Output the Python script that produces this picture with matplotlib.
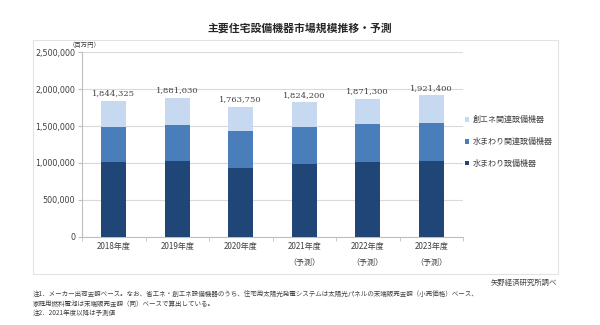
import matplotlib
matplotlib.use("Agg")
import matplotlib.pyplot as plt
from matplotlib.patches import Rectangle
import numpy as np

plt.rcParams['font.family'] = ['Noto Sans CJK JP', 'DejaVu Sans']

years = ["2018年度", "2019年度", "2020年度", "2021年度\n（予測）", "2022年度\n（予測）", "2023年度\n（予測）"]
water_equipment = [1013000, 1027000, 937000, 982000, 1009000, 1022000]
water_related = [473000, 486000, 495000, 504000, 514000, 519000]
totals = [1844325, 1881030, 1763750, 1824200, 1871300, 1921400]
energy = [t - a - b for t, a, b in zip(totals, water_equipment, water_related)]
total_labels = ["1,844,325", "1,881,030", "1,763,750", "1,824,200", "1,871,300", "1,921,400"]
series_names = ["水まわり設備機器", "水まわり関連設備機器", "創エネ関連設備機器"]
colors = ["#1f4677", "#4a7ebb", "#c6d9f0"]
yticks = [0, 500000, 1000000, 1500000, 2000000, 2500000]

W, H = 600, 325
fig = plt.figure(figsize=(6, 3.25), dpi=100)

# outer frame
fig.patches.append(Rectangle((33 / W, 1 - 274 / H), (558 - 33) / W, (274 - 40) / H,
                             transform=fig.transFigure, fill=False, edgecolor="#e3e3e3", linewidth=0.8))

ax = fig.add_axes([82 / W, 1 - 236.7 / H, (463 - 82) / W, (236.7 - 52.3) / H])
x = np.arange(len(years))
bw = 0.39
b1 = ax.bar(x, water_equipment, bw, color=colors[0], label=series_names[0], zorder=3)
b2 = ax.bar(x, water_related, bw, bottom=water_equipment, color=colors[1], label=series_names[1], zorder=3)
bottom2 = [a + b for a, b in zip(water_equipment, water_related)]
b3 = ax.bar(x, energy, bw, bottom=bottom2, color=colors[2], label=series_names[2], zorder=3)

for xi, t, lab in zip(x, totals, total_labels):
    ax.text(xi, t + 45000, lab, ha="center", va="bottom", fontsize=6,
            family="DejaVu Serif", color="#404040")

ax.set_xlim(-0.5, len(years) - 0.5)
ax.set_ylim(0, 2500000)
ax.set_yticks(yticks)
ax.set_yticklabels([f"{v:,}" for v in yticks], fontsize=5.8, color="#404040", family="DejaVu Sans")
ax.yaxis.grid(True, color="#d9d9d9", linewidth=0.8, zorder=0)
ax.set_axisbelow(True)
ax.set_xticks(x)
ax.set_xticklabels(years, fontsize=5.8, color="#404040", linespacing=2.0)
ax.tick_params(axis="x", length=0, pad=4)
ax.set_xticks(np.arange(-0.5, len(years), 1), minor=True)
ax.tick_params(axis="x", which="minor", length=3, color="#bfbfbf")
ax.tick_params(axis="y", length=3, color="#bfbfbf", pad=2)
for s in ["top", "right"]:
    ax.spines[s].set_visible(False)
ax.spines["left"].set_color("#bfbfbf")
ax.spines["bottom"].set_color("#bfbfbf")
ax.spines["left"].set_linewidth(0.8)
ax.spines["bottom"].set_linewidth(0.8)

# legend
handles = [b3, b2, b1]
leg = fig.legend(handles, [series_names[2], series_names[1], series_names[0]],
                 loc="upper left", bbox_to_anchor=(458 / W, 1 - 108 / H), frameon=False,
                 fontsize=5.8, handlelength=0.5, handleheight=0.5, handletextpad=0.4,
                 labelspacing=1.6, labelcolor="#404040")

fig.text(300 / W, 1 - 28 / H, "主要住宅設備機器市場規模推移・予測", ha="center", va="center",
         fontsize=7.8, color="#262626", weight="bold")
fig.text(85 / W, 1 - 45 / H, "（百万円）", ha="center", va="center", fontsize=4.6, color="#404040")
fig.text(557 / W, 1 - 283 / H, "矢野経済研究所調べ", ha="right", va="center", fontsize=5.3, color="#404040")
notes = [
    "注1．メーカー出荷金額ベース。なお、省エネ・創エネ設備機器のうち、住宅用太陽光発電システムは太陽光パネルの末端販売金額（小売価格）ベース、",
    "家庭用燃料電池は末端販売金額（同）ベースで算出している。",
    "注2．2021年度以降は予測値",
]
for i, n in enumerate(notes):
    fig.text(33 / W, 1 - (294 + i * 9.7) / H, n, ha="left", va="center", fontsize=4.7, color="#404040")

fig.savefig("out.png", dpi=100, facecolor="white")
